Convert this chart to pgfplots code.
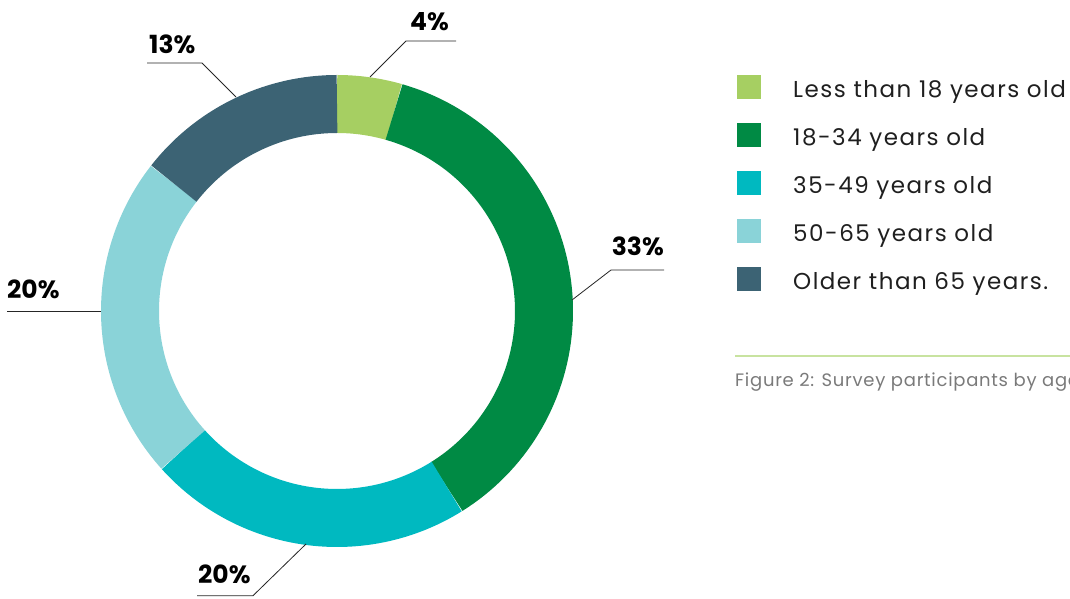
\documentclass[border=0pt]{standalone}
\usepackage{fontspec}
\setmainfont{Poppins}
\newfontfamily\legfont[LetterSpace=6.5]{Poppins}
\newfontfamily\capfont[LetterSpace=4]{Poppins}
\usepackage{pgfplots}
\pgfplotsset{compat=1.18}
\definecolor{cA}{HTML}{A6CF62}
\definecolor{cB}{HTML}{008A44}
\definecolor{cC}{HTML}{00B9C0}
\definecolor{cD}{HTML}{8AD3D8}
\definecolor{cE}{HTML}{3C6374}
\definecolor{sep}{HTML}{C8E3A0}
\definecolor{capgray}{HTML}{7A7A7A}
\begin{document}
\begin{tikzpicture}
\useasboundingbox (0,0) rectangle (1070pt,599pt);
\clip (0,0) rectangle (1070pt,599pt);
\begin{axis}[
  x=1pt, y=1pt, xmin=0, xmax=1070, ymin=0, ymax=599,
  at={(0pt,0pt)}, anchor=south west,
  hide axis, clip=false,
  legend image code/.code={\fill[#1, draw=none] (0pt,-1.7pt) rectangle (24pt,22.3pt);},
  legend style={at={(axis cs:737,524)}, anchor=north west, draw=none, fill=none,
    inner sep=0pt, font=\legfont\fontsize{23}{27}\selectfont, text=black!88,
    nodes={inner sep=0pt, text depth=0pt}, cells={anchor=base west}, column sep=32pt, row sep=24pt},
]
\addplot[cA, line width=58pt, domain=0:4, samples=20] ({337+207*sin(4*x)}, {288+207*cos(4*x)});
\addplot[cB, line width=58pt, domain=4:37, samples=80] ({337+207*sin(4*x)}, {288+207*cos(4*x)});
\addplot[cC, line width=58pt, domain=37:57, samples=60] ({337+207*sin(4*x)}, {288+207*cos(4*x)});
\addplot[cD, line width=58pt, domain=57:77, samples=60] ({337+207*sin(4*x)}, {288+207*cos(4*x)});
\addplot[cE, line width=58pt, domain=77:90, samples=40] ({337+207*sin(4*x)}, {288+207*cos(4*x)});
\legend{Less than 18 years old, 18-34 years old, 35-49 years old, 50-65 years old, Older than 65 years.}
% leader lines
\addplot[black!85, line width=0.8pt, forget plot] coordinates {(370,522) (406,558) (456,558)};
\addplot[black!85, line width=0.8pt, forget plot] coordinates {(572,299) (611,329) (664,329)};
\addplot[black!85, line width=0.8pt, forget plot] coordinates {(101,288) (7,288)};
\addplot[black!85, line width=0.8pt, forget plot] coordinates {(306,55) (253,3.3) (197,3.3)};
\addplot[black!85, line width=0.8pt, forget plot] coordinates {(236,502) (202,536) (147,536)};
% labels
\node[anchor=base east, inner sep=0pt, font=\bfseries\fontsize{25}{30}\selectfont] at (axis cs:449,568.5) {4\%};
\node[anchor=base east, inner sep=0pt, font=\bfseries\fontsize{25}{30}\selectfont] at (axis cs:664,343.5) {33\%};
\node[anchor=base west, inner sep=0pt, font=\bfseries\fontsize{25}{30}\selectfont] at (axis cs:7,300) {20\%};
\node[anchor=base west, inner sep=0pt, font=\bfseries\fontsize{25}{30}\selectfont] at (axis cs:198,15) {20\%};
\node[anchor=base west, inner sep=0pt, font=\bfseries\fontsize{25}{30}\selectfont] at (axis cs:149,545) {13\%};
% separator and caption
\draw[sep, line width=1.2pt] (axis cs:735,243) -- (axis cs:1075,243);
\node[anchor=base west, inner sep=0pt, text=capgray, font=\capfont\fontsize{18}{22}\selectfont] at (axis cs:735,212.5) {Figure 2: Survey participants by age};
\end{axis}
\end{tikzpicture}
\end{document}
